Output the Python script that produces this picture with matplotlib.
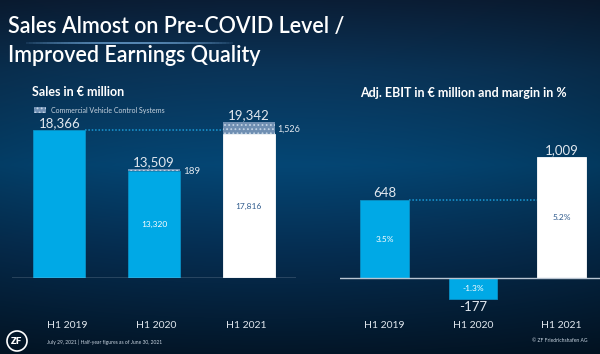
import numpy as np
import matplotlib
matplotlib.use("Agg")
import matplotlib.pyplot as plt
from matplotlib.patches import Rectangle, Ellipse

plt.rcParams['font.family'] = ['Lato', 'DejaVu Sans']
plt.rcParams['hatch.linewidth'] = 0.8

# ---------------- data ----------------
years = ["H1 2019", "H1 2020", "H1 2021"]
sales_base = [18366, 13320, 17816]
sales_cvcs = [0, 189, 1526]
sales_total = [18366, 13509, 19342]
sales_total_labels = ["18,366", "13,509", "19,342"]
sales_base_labels = ["", "13,320", "17,816"]
cvcs_labels = ["", "189", "1,526"]

ebit = [648, -177, 1009]
ebit_labels = ["648", "-177", "1,009"]
margin_labels = ["3.5%", "-1.3%", "5.2%"]

CYAN = "#00a9e6"
CYAN_EDGE = "#0a8fc4"
DOT = "#1a9bd7"
TXT = "#e2e8ef"

W, H = 600, 354
fig = plt.figure(figsize=(6, 3.54), dpi=100)

def fx(x):
    return x / W

def fy(y):
    return 1 - y / H

# ---------------- background ----------------
bg = fig.add_axes([0, 0, 1, 1], zorder=-10)
bg.set_axis_off()
ys = np.linspace(0, H, 200)
stops_y = [0, 70, 165, 250, 354]
stops_c = np.array([[11, 30, 54], [10, 52, 88], [4, 70, 116], [6, 46, 82], [3, 22, 40]]) / 255
col = np.stack([np.interp(ys, stops_y, stops_c[:, k]) for k in range(3)], axis=1)
xs = np.linspace(0, W, 300)
fac = 1 - 0.18 * ((xs - 270) / 330) ** 2
img = col[:, None, :] * fac[None, :, None]
bg.imshow(np.clip(img, 0, 1), extent=[0, 1, 0, 1], aspect='auto', origin='upper')
bg.set_xlim(0, 1)
bg.set_ylim(0, 1)

# ---------------- titles ----------------
fig.text(fx(8), fy(26), "Sales Almost on Pre-COVID Level /", color="white",
         fontsize=15.5, fontweight="semibold", va="center", ha="left")
fig.text(fx(8), fy(56), "Improved Earnings Quality", color="white",
         fontsize=15.5, fontweight="semibold", va="center", ha="left")
# glow line
n = 60
xs_line = np.linspace(22, 233, n + 1)
for i in range(n):
    t = i / n
    a = np.sin(np.pi * t) ** 0.6
    bg.plot([fx(xs_line[i]), fx(xs_line[i + 1])], [fy(43), fy(43)],
            color="#6fa6d6", alpha=0.9 * a, lw=1.2, solid_capstyle="butt")

fig.text(fx(32), fy(92.5), "Sales in € million", color="white", fontsize=9,
         fontweight="bold", va="center", ha="left")
fig.text(fx(360), fy(93), "Adj. EBIT in € million and margin in %", color="white",
         fontsize=9, fontweight="bold", va="center", ha="left")

# legend
leg = Rectangle((fx(34), fy(113)), fx(12), 6 / H, transform=fig.transFigure,
                facecolor="#6f8fb2", edgecolor="#c2d3e4", hatch="....", lw=0)
fig.add_artist(leg)
fig.text(fx(51), fy(110), "Commercial Vehicle Control Systems", color="#c8d4e0",
         fontsize=5, va="center", ha="left")

# ---------------- left chart: sales ----------------
scale_l = 0.00806  # px per unit
axL = fig.add_axes([fx(12), 1 - 278 / H, 284 / W, 178 / H])
axL.set_axis_off()
axL.set_xlim(-0.5, 2.5)
axL.set_ylim(0, 178 / scale_l)
x = np.arange(len(years))
bw = 0.55
base_cols = [CYAN, CYAN, "white"]
axL.bar(x, sales_base, width=bw, color=base_cols,
        edgecolor=[CYAN_EDGE, CYAN_EDGE, "white"], lw=0.6, zorder=3)
axL.bar(x, sales_cvcs, width=bw, bottom=sales_base, facecolor="#6f8fb2",
        edgecolor="#c2d3e4", hatch="....", lw=0, zorder=3)
axL.axhline(0, color="#b9c5d2", lw=1, zorder=4)
axL.plot([0 + bw / 2, 2 - bw / 2], [sales_total[0]] * 2, ls=(0, (1, 1.2)),
         color=DOT, lw=1.1, zorder=2)
for i in range(3):
    axL.annotate(sales_total_labels[i], (x[i], sales_total[i]), xytext=(0, 2),
                 textcoords="offset points", ha="center", va="baseline",
                 color=TXT, fontsize=9.5)
    if sales_base_labels[i]:
        axL.text(x[i], sales_base[i] / 2, sales_base_labels[i], ha="center", va="center",
                 color="white" if i == 1 else "#2f5b8d", fontsize=6)
    if cvcs_labels[i]:
        axL.annotate(cvcs_labels[i], (x[i] + bw / 2, sales_base[i] + sales_cvcs[i] / 2),
                     xytext=(2, -1), textcoords="offset points", ha="left", va="center",
                     color=TXT, fontsize=7 if i == 1 else 6.5)
lab_off_l = [0.08, 0.02, -0.03]
for i in range(3):
    axL.text(x[i] + lab_off_l[i], -(325 - 278) / scale_l, years[i], ha="center",
             va="center", color=TXT, fontsize=7.5, clip_on=False)

# ---------------- right chart: EBIT ----------------
scale_r = 0.12
axR = fig.add_axes([fx(340), 1 - 320 / H, 260 / W, 220 / H])
axR.set_axis_off()
axR.set_xlim(-44.5 / 88.5, (260 - 44.5) / 88.5)
axR.set_ylim(-(320 - 278) / scale_r, 178 / scale_r)
ebit_cols = [CYAN, CYAN, "white"]
axR.bar(x, ebit, width=bw, color=ebit_cols,
        edgecolor=[CYAN_EDGE, CYAN_EDGE, "white"], lw=0.6, zorder=3)
axR.axhline(0, color="#b9c5d2", lw=1, zorder=4)
axR.plot([0 + bw / 2, 2 - bw / 2], [ebit[0]] * 2, ls=(0, (1, 1.2)),
         color=DOT, lw=1.1, zorder=2)
for i in range(3):
    if ebit[i] >= 0:
        axR.annotate(ebit_labels[i], (x[i], ebit[i]), xytext=(0, 2),
                     textcoords="offset points", ha="center", va="baseline",
                     color=TXT, fontsize=9.5)
    else:
        axR.annotate(ebit_labels[i], (x[i], ebit[i]), xytext=(0, -1.5),
                     textcoords="offset points", ha="center", va="top",
                     color=TXT, fontsize=9.5, annotation_clip=False)
    axR.text(x[i], ebit[i] / 2, margin_labels[i], ha="center", va="center",
             color="#2f5b8d" if i == 2 else "white", fontsize=6)
for i in range(3):
    axR.text(x[i], -(325 - 278) / scale_r, years[i], ha="center",
             va="center", color=TXT, fontsize=7.5, clip_on=False)

# ---------------- footer ----------------
logo = Ellipse((fx(17), fy(341)), 20 / W, 20 / H, transform=fig.transFigure,
               facecolor="none", edgecolor="white", lw=1.2)
fig.add_artist(logo)
fig.text(fx(17), fy(341), "ZF", color="white", fontsize=7, fontweight="heavy",
         ha="center", va="center")
fig.text(fx(47), fy(342), "July 29, 2021 | Half-year figures as of June 30, 2021",
         color="#c8d4e0", fontsize=3.6, ha="left", va="center")
fig.text(fx(587), fy(341), "© ZF Friedrichshafen AG", color="#c8d4e0",
         fontsize=3.6, ha="right", va="center")

fig.savefig("out.png", dpi=100)
